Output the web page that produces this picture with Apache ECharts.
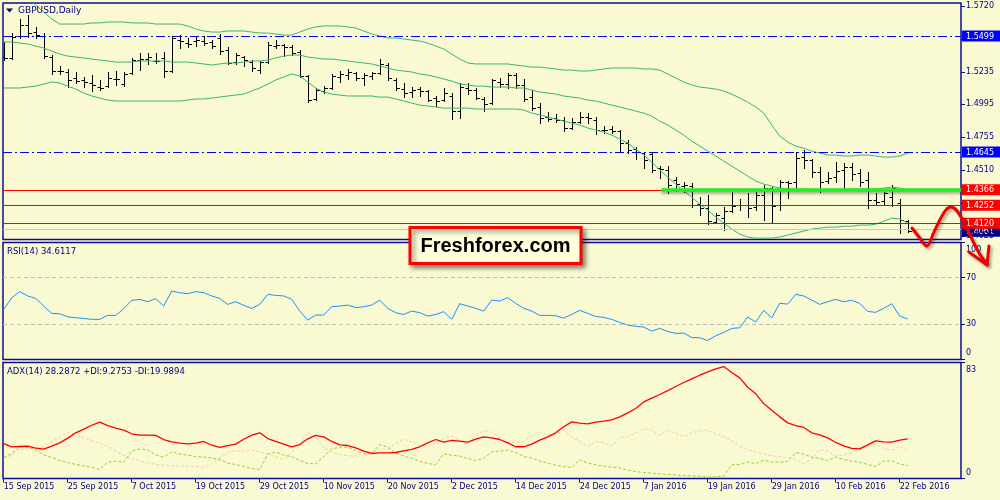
<!DOCTYPE html>
<html><head><meta charset="utf-8">
<script src="https://cdn.jsdelivr.net/npm/echarts@6/dist/echarts.min.js"></script>
<style>html,body{margin:0;padding:0;background:#FAFAD2}#c{width:1000px;height:500px}</style>
</head><body><div id="c"></div>
<script>
const dates = ['15 Sep 2015','16 Sep 2015','17 Sep 2015','18 Sep 2015','21 Sep 2015','22 Sep 2015','23 Sep 2015','24 Sep 2015','25 Sep 2015','28 Sep 2015','29 Sep 2015','30 Sep 2015',
'1 Oct 2015','2 Oct 2015','5 Oct 2015','6 Oct 2015','7 Oct 2015','8 Oct 2015','9 Oct 2015','12 Oct 2015','13 Oct 2015','14 Oct 2015','15 Oct 2015','16 Oct 2015','19 Oct 2015','20 Oct 2015','21 Oct 2015','22 Oct 2015','23 Oct 2015','26 Oct 2015','27 Oct 2015','28 Oct 2015','29 Oct 2015','30 Oct 2015',
'2 Nov 2015','3 Nov 2015','4 Nov 2015','5 Nov 2015','6 Nov 2015','9 Nov 2015','10 Nov 2015','11 Nov 2015','12 Nov 2015','13 Nov 2015','16 Nov 2015','17 Nov 2015','18 Nov 2015','19 Nov 2015','20 Nov 2015','23 Nov 2015','24 Nov 2015','25 Nov 2015','26 Nov 2015','27 Nov 2015','30 Nov 2015',
'1 Dec 2015','2 Dec 2015','3 Dec 2015','4 Dec 2015','7 Dec 2015','8 Dec 2015','9 Dec 2015','10 Dec 2015','11 Dec 2015','14 Dec 2015','15 Dec 2015','16 Dec 2015','17 Dec 2015','18 Dec 2015','21 Dec 2015','22 Dec 2015','23 Dec 2015','24 Dec 2015','28 Dec 2015','29 Dec 2015','30 Dec 2015','31 Dec 2015',
'4 Jan 2016','5 Jan 2016','6 Jan 2016','7 Jan 2016','8 Jan 2016','11 Jan 2016','12 Jan 2016','13 Jan 2016','14 Jan 2016','15 Jan 2016','18 Jan 2016','19 Jan 2016','20 Jan 2016','21 Jan 2016','22 Jan 2016','25 Jan 2016','26 Jan 2016','27 Jan 2016','28 Jan 2016','29 Jan 2016',
'1 Feb 2016','2 Feb 2016','3 Feb 2016','4 Feb 2016','5 Feb 2016','8 Feb 2016','9 Feb 2016','10 Feb 2016','11 Feb 2016','12 Feb 2016','15 Feb 2016','16 Feb 2016','17 Feb 2016','18 Feb 2016','19 Feb 2016','22 Feb 2016','23 Feb 2016'];

const opens = [1.5344,1.5337,1.5499,1.5580,1.5528,1.5499,1.5344,1.5241,1.5234,1.5189,
1.5175,1.5153,1.5123,1.5130,1.5182,1.5145,1.5226,1.5322,1.5329,1.5315,
1.5337,1.5241,1.5469,1.5447,1.5462,1.5462,1.5455,1.5484,1.5396,1.5307,
1.5344,1.5307,1.5248,1.5307,1.5425,1.5433,1.5418,1.5381,1.5204,1.5035,
1.5094,1.5116,1.5197,1.5211,1.5226,1.5189,1.5204,1.5226,1.5285,1.5175,
1.5108,1.5086,1.5108,1.5094,1.5042,1.5027,1.5057,1.4946,1.5116,1.5101,
1.5035,1.5005,1.5160,1.5145,1.5211,1.5138,1.5049,1.4976,1.4902,1.4895,
1.4880,1.4821,1.4865,1.4902,1.4880,1.4806,1.4813,1.4799,1.4710,1.4666,
1.4637,1.4629,1.4526,1.4511,1.4438,1.4394,1.4394,1.4261,1.4231,1.4128,
1.4157,1.4209,1.4253,1.4253,1.4239,1.4327,1.4379,1.4253,1.4423,1.4423,
1.4607,1.4585,1.4497,1.4431,1.4460,1.4511,1.4533,1.4489,1.4438,1.4290,
1.4283,1.4312,1.4268,1.4135];
const closes = [1.5337,1.5492,1.5580,1.5521,1.5506,1.5351,1.5241,1.5241,1.5175,1.5167,
1.5160,1.5138,1.5116,1.5189,1.5182,1.5219,1.5322,1.5329,1.5344,1.5315,
1.5241,1.5484,1.5462,1.5440,1.5469,1.5447,1.5425,1.5388,1.5300,1.5359,
1.5322,1.5263,1.5307,1.5433,1.5433,1.5418,1.5374,1.5204,1.5027,1.5101,
1.5116,1.5204,1.5219,1.5234,1.5189,1.5211,1.5226,1.5293,1.5189,1.5116,
1.5079,1.5101,1.5094,1.5027,1.5020,1.5079,1.4946,1.5123,1.5101,1.5042,
1.4998,1.5175,1.5145,1.5211,1.5138,1.5035,1.4968,1.4895,1.4887,1.4880,
1.4821,1.4865,1.4902,1.4895,1.4806,1.4806,1.4799,1.4710,1.4659,1.4644,
1.4585,1.4511,1.4519,1.4401,1.4408,1.4401,1.4253,1.4231,1.4135,1.4180,
1.4209,1.4246,1.4253,1.4231,1.4327,1.4379,1.4246,1.4423,1.4416,1.4600,
1.4585,1.4497,1.4423,1.4452,1.4504,1.4533,1.4482,1.4423,1.4290,1.4275,
1.4342,1.4379,1.4143,1.4061];
const highs = [1.5455,1.5521,1.5624,1.5654,1.5565,1.5521,1.5359,1.5278,1.5256,1.5234,
1.5197,1.5211,1.5175,1.5234,1.5241,1.5234,1.5337,1.5374,1.5374,1.5374,
1.5381,1.5499,1.5506,1.5484,1.5499,1.5499,1.5469,1.5514,1.5418,1.5374,
1.5351,1.5322,1.5315,1.5455,1.5469,1.5440,1.5433,1.5396,1.5211,1.5116,
1.5130,1.5219,1.5241,1.5256,1.5234,1.5226,1.5234,1.5329,1.5300,1.5189,
1.5153,1.5123,1.5123,1.5101,1.5057,1.5116,1.5079,1.5153,1.5153,1.5116,
1.5049,1.5182,1.5189,1.5226,1.5226,1.5182,1.5101,1.5005,1.4939,1.4924,
1.4902,1.4895,1.4939,1.4931,1.4902,1.4836,1.4836,1.4806,1.4732,1.4681,
1.4644,1.4637,1.4541,1.4541,1.4460,1.4423,1.4416,1.4312,1.4327,1.4194,
1.4239,1.4349,1.4298,1.4342,1.4349,1.4401,1.4386,1.4438,1.4431,1.4644,
1.4659,1.4592,1.4533,1.4497,1.4570,1.4563,1.4563,1.4519,1.4497,1.4342,
1.4349,1.4401,1.4298,1.4143];
const lows = [1.5322,1.5329,1.5484,1.5492,1.5484,1.5337,1.5219,1.5219,1.5123,1.5153,
1.5123,1.5094,1.5101,1.5123,1.5138,1.5130,1.5219,1.5248,1.5293,1.5300,
1.5197,1.5234,1.5410,1.5418,1.5425,1.5433,1.5410,1.5366,1.5293,1.5293,
1.5278,1.5241,1.5226,1.5300,1.5410,1.5351,1.5359,1.5197,1.5012,1.5027,
1.5079,1.5108,1.5160,1.5182,1.5175,1.5138,1.5182,1.5219,1.5175,1.5101,
1.5049,1.5049,1.5057,1.5020,1.4983,1.5020,1.4887,1.4895,1.5071,1.5035,
1.4946,1.4998,1.5123,1.5116,1.5116,1.5020,1.4954,1.4858,1.4872,1.4865,
1.4799,1.4813,1.4858,1.4858,1.4777,1.4784,1.4784,1.4651,1.4637,1.4592,
1.4526,1.4497,1.4452,1.4342,1.4357,1.4349,1.4239,1.4180,1.4113,1.4121,
1.4069,1.4202,1.4217,1.4165,1.4217,1.4143,1.4128,1.4217,1.4305,1.4371,
1.4526,1.4460,1.4349,1.4416,1.4423,1.4371,1.4438,1.4394,1.4231,1.4253,
1.4253,1.4246,1.4047,1.4055];

const bbUpper = [1.5934,1.5882,1.5830,1.5779,1.5727,1.5676,1.5624,1.5587,1.5587,1.5587,
1.5587,1.5595,1.5595,1.5602,1.5602,1.5602,1.5595,1.5595,1.5595,1.5587,
1.5587,1.5587,1.5587,1.5573,1.5550,1.5536,1.5528,1.5528,1.5536,1.5536,
1.5536,1.5528,1.5521,1.5521,1.5514,1.5506,1.5506,1.5528,1.5550,1.5565,
1.5573,1.5573,1.5573,1.5565,1.5558,1.5536,1.5514,1.5499,1.5484,1.5484,
1.5477,1.5469,1.5462,1.5447,1.5425,1.5403,1.5366,1.5329,1.5300,1.5293,
1.5293,1.5293,1.5293,1.5293,1.5285,1.5278,1.5270,1.5270,1.5263,1.5256,
1.5248,1.5248,1.5241,1.5241,1.5248,1.5256,1.5263,1.5263,1.5263,1.5263,
1.5256,1.5256,1.5248,1.5219,1.5189,1.5160,1.5138,1.5123,1.5116,1.5108,
1.5094,1.5071,1.5042,1.5012,1.4976,1.4931,1.4843,1.4762,1.4718,1.4688,
1.4673,1.4651,1.4637,1.4622,1.4622,1.4615,1.4615,1.4622,1.4622,1.4615,
1.4607,1.4607,1.4615,1.4637];
const bbMiddle = [1.5455,1.5455,1.5447,1.5440,1.5425,1.5410,1.5388,1.5366,1.5351,1.5344,
1.5337,1.5329,1.5322,1.5315,1.5307,1.5307,1.5307,1.5315,1.5315,1.5315,
1.5315,1.5307,1.5307,1.5307,1.5300,1.5293,1.5285,1.5293,1.5300,1.5300,
1.5307,1.5315,1.5315,1.5322,1.5337,1.5351,1.5359,1.5359,1.5344,1.5337,
1.5329,1.5329,1.5322,1.5315,1.5307,1.5300,1.5293,1.5278,1.5263,1.5248,
1.5241,1.5234,1.5219,1.5211,1.5197,1.5182,1.5167,1.5145,1.5138,1.5130,
1.5130,1.5123,1.5123,1.5123,1.5116,1.5116,1.5101,1.5086,1.5079,1.5071,
1.5057,1.5049,1.5042,1.5027,1.5020,1.5005,1.4990,1.4976,1.4961,1.4946,
1.4931,1.4909,1.4872,1.4843,1.4806,1.4769,1.4725,1.4688,1.4651,1.4615,
1.4578,1.4541,1.4504,1.4467,1.4431,1.4408,1.4394,1.4379,1.4371,1.4371,
1.4371,1.4364,1.4364,1.4364,1.4364,1.4364,1.4371,1.4371,1.4371,1.4371,
1.4379,1.4386,1.4379,1.4364];
const bbLower = [1.5116,1.5116,1.5116,1.5123,1.5130,1.5145,1.5160,1.5153,1.5130,1.5108,
1.5079,1.5057,1.5042,1.5027,1.5020,1.5020,1.5020,1.5020,1.5020,1.5020,
1.5020,1.5020,1.5020,1.5027,1.5035,1.5035,1.5042,1.5049,1.5057,1.5064,
1.5071,1.5094,1.5116,1.5145,1.5175,1.5197,1.5219,1.5204,1.5160,1.5116,
1.5086,1.5071,1.5064,1.5057,1.5057,1.5057,1.5057,1.5049,1.5049,1.5035,
1.5020,1.5005,1.4990,1.4983,1.4976,1.4968,1.4968,1.4968,1.4968,1.4961,
1.4961,1.4961,1.4961,1.4961,1.4961,1.4954,1.4931,1.4917,1.4902,1.4887,
1.4872,1.4858,1.4843,1.4821,1.4806,1.4791,1.4769,1.4740,1.4710,1.4666,
1.4622,1.4570,1.4511,1.4460,1.4408,1.4357,1.4312,1.4261,1.4217,1.4165,
1.4121,1.4077,1.4040,1.4018,1.4010,1.4010,1.4010,1.4018,1.4033,1.4047,
1.4062,1.4077,1.4084,1.4091,1.4091,1.4098,1.4098,1.4106,1.4106,1.4113,
1.4135,1.4157,1.4150,1.4121];

const rsi = [42.8,52.8,58.0,54.3,52.2,45.7,39.4,39.1,36.5,35.7,
35.1,34.3,34.3,37.7,37.7,43.4,50.5,51.4,49.4,52.0,
45.7,58.5,57.1,56.3,58.0,57.1,54.3,52.2,47.1,49.4,
46.3,43.7,47.1,55.7,54.8,54.3,51.4,41.4,33.7,38.0,
38.0,45.1,45.7,46.5,44.3,45.1,46.5,50.8,43.7,40.0,
38.5,41.4,40.0,37.1,38.5,40.9,34.3,47.7,45.7,43.7,
41.4,50.8,50.0,52.8,48.0,43.7,41.4,37.7,37.7,37.4,
35.4,38.5,42.0,39.4,36.8,36.0,34.3,31.7,29.4,28.3,
27.7,24.3,26.6,24.0,22.3,22.6,18.8,18.6,16.3,20.3,
23.1,26.6,27.1,36.3,32.0,42.0,35.7,48.0,47.4,55.7,
54.3,50.8,47.1,49.4,51.4,49.4,50.5,48.0,41.1,40.3,
43.7,47.7,37.1,34.6];
const adx = [25.0,22.7,22.9,23.1,21.7,21.0,23.1,25.5,28.9,32.7,
35.3,38.1,40.3,37.9,36.0,34.6,32.0,31.0,31.0,30.8,
27.9,26.2,25.3,24.8,25.3,26.5,23.8,22.2,23.6,24.6,
28.1,31.0,32.7,28.6,26.5,24.6,22.7,24.3,28.4,30.8,
29.8,26.5,24.1,23.6,21.9,19.6,17.9,18.4,18.4,18.6,
19.8,20.8,22.7,25.5,27.9,26.0,27.2,26.7,26.0,28.1,
29.8,29.1,27.9,25.5,22.7,22.7,24.6,27.4,29.8,32.7,
37.0,40.5,39.6,39.1,40.3,41.0,42.0,44.1,47.0,50.1,
54.8,57.5,60.1,62.9,65.8,68.7,71.3,73.9,76.3,78.4,
80.1,75.8,72.0,65.3,60.6,53.6,48.9,44.1,39.8,37.9,
36.5,32.7,31.2,29.1,25.8,23.4,21.5,21.2,24.1,26.9,
26.2,26.0,27.4,28.3];
const plusDI = [15.0,17.9,22.7,22.2,20.5,16.9,15.0,12.9,11.5,10.0,
9.1,8.1,6.4,11.7,12.4,11.5,19.6,21.2,20.5,16.9,
15.3,19.1,17.6,16.7,15.7,15.3,14.6,13.6,11.0,10.0,
8.6,7.2,6.4,17.4,18.8,16.9,15.5,12.9,10.7,10.5,
15.5,21.2,22.4,22.4,20.0,17.9,17.6,24.3,22.4,18.1,
16.0,14.3,12.4,10.7,10.0,17.6,16.7,16.0,14.3,12.9,
14.3,19.1,19.6,20.3,18.6,15.7,14.8,12.4,11.0,9.5,
8.4,7.9,13.6,11.0,9.8,8.8,8.1,7.6,6.0,5.0,
4.3,3.8,3.3,2.9,2.6,2.2,1.9,1.7,1.0,1.2,
1.7,9.8,10.0,11.7,10.7,13.1,11.9,11.7,12.2,18.6,
17.4,15.3,14.3,12.9,15.3,13.6,12.4,11.7,10.0,8.6,
12.4,12.6,10.3,9.3];
const minusDI = [14.8,16.5,20.8,20.8,22.4,22.9,26.2,30.0,32.9,31.2,
29.1,27.2,25.0,23.1,19.8,16.5,14.1,12.6,11.5,10.0,
9.6,9.1,8.8,8.8,8.6,8.1,10.5,15.0,18.6,20.0,
19.6,20.3,19.1,17.4,15.3,13.8,18.8,23.1,33.1,29.8,
21.9,18.8,17.2,16.2,16.0,16.2,18.6,21.2,20.8,25.0,
28.1,26.2,23.8,23.4,25.0,28.6,30.3,26.7,24.8,31.0,
34.1,33.1,29.8,26.5,25.5,26.7,30.8,33.4,30.8,32.2,
34.3,29.8,26.7,22.9,26.5,25.7,22.9,29.1,30.0,32.7,
35.5,34.6,30.8,34.6,32.4,30.0,32.9,34.1,34.6,32.0,
30.0,27.2,23.1,20.5,19.1,17.6,16.2,15.7,15.0,13.4,
10.5,13.6,20.8,19.6,16.2,16.9,18.4,20.5,22.9,24.1,
21.7,20.0,23.1,20.0];

const priceTicks = [1.5720,1.5475,1.5235,1.4995,1.4755,1.4510,1.4270,1.4025];
const priceLabels = [1.5720,1.5475,1.5235,1.4995,1.4755,1.4510];
const priceLabelLow = [1.4025];
const blueLevels = [1.5499,1.4645];
const redLevels = [1.4366,1.4252,1.4120];
const bidPrice = 1.4061;
const askPrice = 1.4079;
const greenLevel = 1.4370;
const greenStartBar = 82.2;
const rsiLevels = [70,30];
const rsiTicks = [100,70,30,0];
const adxTicks = [83,0];
const titleText = 'GBPUSD,Daily';
const rsiText = 'RSI(14) 34.6117';
const adxText = 'ADX(14) 28.2872 +DI:9.2753 -DI:19.9894';
const brandText = 'Freshforex.com';

const NAVY = '#000080', FRAME = '#0c0c96', FONT = 'DejaVu Sans';
const X_MIN = -0.09, X_MAX = 119.66;
const P_MIN = 1.4000, P_MAX = 1.5742;
const dateTickIdx = dates.map((d, i) => i).filter(i => i % 8 === 0);
const pairs = arr => arr.map((v, i) => [i, v]);

function renderOHLC(params, api) {
  const i = api.value(0);
  const o = api.coord([i, api.value(1)]);
  const c = api.coord([i, api.value(2)]);
  const l = api.coord([i, api.value(3)]);
  const h = api.coord([i, api.value(4)]);
  const px = Math.round(o[0]) + 0.5;
  const ry = y => Math.round(y) + 0.5;
  const st = {stroke: '#000', lineWidth: 1};
  return {type: 'group', children: [
    {type: 'line', shape: {x1: px, y1: Math.round(h[1]), x2: px, y2: Math.round(l[1]) + 1}, style: st},
    {type: 'line', shape: {x1: px - 3, y1: ry(o[1]), x2: px, y2: ry(o[1])}, style: st},
    {type: 'line', shape: {x1: px, y1: ry(c[1]), x2: px + 3.5, y2: ry(c[1])}, style: st}
  ]};
}

const near = (a, b) => Math.abs(a - b) < 1e-6;
const lblFont = {fontFamily: FONT, fontSize: 8, color: NAVY};
const boxStyle = bg => ({backgroundColor: bg, color: '#fff', padding: [2, 14, 1, 4], fontFamily: FONT, fontSize: 8, lineHeight: 9});
const priceAxis = (z, extra) => Object.assign({type: 'value', gridIndex: 0, position: 'right', min: P_MIN, max: P_MAX, z: z,
  splitLine: {show: false}, axisLine: {show: false, onZero: false}, axisTick: {show: false}}, extra);

const chart = echarts.init(document.getElementById('c'), null, {renderer: 'canvas'});
const gridBase = {show: true, borderColor: FRAME, borderWidth: 1.5, backgroundColor: 'transparent',
  containLabel: false, outerBoundsMode: 'none'};
chart.setOption({
  animation: false,
  backgroundColor: '#FAFAD2',
  grid: [
    Object.assign({left: 3, top: 3, width: 958, height: 236.5}, gridBase),
    Object.assign({left: 3, top: 242.5, width: 958, height: 117}, gridBase),
    Object.assign({left: 3, top: 362.5, width: 958, height: 116}, gridBase)
  ],
  xAxis: [0, 1, 2].map(g => ({
    type: 'value', gridIndex: g, min: X_MIN, max: X_MAX,
    show: g === 2,
    splitLine: {show: false},
    axisLine: {show: false, onZero: false},
    axisTick: {show: g === 2, customValues: dateTickIdx, length: 4, lineStyle: {color: FRAME, width: 1}},
    axisLabel: Object.assign({show: g === 2, customValues: dateTickIdx, formatter: v => dates[Math.round(v)] || '',
      align: 'left', margin: 4, showMinLabel: true, showMaxLabel: true}, lblFont)
  })),
  yAxis: [
    priceAxis(1, {axisTick: {show: true, customValues: priceTicks, length: 4, lineStyle: {color: FRAME}},
      axisLabel: Object.assign({customValues: priceLabels, formatter: v => v.toFixed(4), margin: 5,
        showMinLabel: true, showMaxLabel: true}, lblFont)}),
    priceAxis(2, {axisLabel: {customValues: [bidPrice], margin: 1, showMinLabel: true, showMaxLabel: true,
        formatter: v => '{navy|' + v.toFixed(4) + '}', rich: {navy: boxStyle('#000080')}}}),
    priceAxis(3, {axisLabel: {customValues: blueLevels.concat(redLevels), margin: 1, showMinLabel: true, showMaxLabel: true,
        formatter: v => (blueLevels.some(b => near(b, v)) ? '{blue|' : '{red|') + v.toFixed(4) + '}',
        rich: {blue: boxStyle('#0000FF'), red: boxStyle('#FF0000')}}}),
    priceAxis(4, {axisLabel: Object.assign({customValues: priceLabelLow, formatter: v => v.toFixed(4), margin: 5,
        showMinLabel: true, showMaxLabel: true}, lblFont)}),
    {type: 'value', gridIndex: 1, position: 'right', min: 0, max: 100,
      splitLine: {show: false}, axisLine: {show: false, onZero: false},
      axisTick: {customValues: rsiTicks, length: 4, lineStyle: {color: FRAME}},
      axisLabel: Object.assign({customValues: rsiTicks, margin: 5, showMinLabel: true, showMaxLabel: true,
        formatter: v => v === 100 ? '{t|100}' : (v === 0 ? '{b|0}' : String(v)),
        rich: {t: {padding: [14, 0, 0, 0], fontFamily: FONT, fontSize: 8, color: NAVY},
               b: {padding: [0, 0, 14, 0], fontFamily: FONT, fontSize: 8, color: NAVY}}}, lblFont)},
    {type: 'value', gridIndex: 2, position: 'right', min: 0, max: 83,
      splitLine: {show: false}, axisLine: {show: false, onZero: false},
      axisTick: {customValues: adxTicks, length: 4, lineStyle: {color: FRAME}},
      axisLabel: Object.assign({customValues: adxTicks, margin: 5, showMinLabel: true, showMaxLabel: true,
        formatter: v => v === 83 ? '{t|83}' : '{b|0}',
        rich: {t: {padding: [15, 0, 0, 0], fontFamily: FONT, fontSize: 8, color: NAVY},
               b: {padding: [0, 0, 12, 0], fontFamily: FONT, fontSize: 8, color: NAVY}}}, lblFont)}
  ],
  series: [
    {type: 'custom', name: 'GBPUSD', xAxisIndex: 0, yAxisIndex: 0, clip: true,
      data: opens.map((o, i) => [i, o, closes[i], lows[i], highs[i]]),
      encode: {x: 0, y: [1, 2, 3, 4]}, renderItem: renderOHLC, z: 3},
    {type: 'line', name: 'BB upper', xAxisIndex: 0, yAxisIndex: 0, data: pairs(bbUpper), symbol: 'none', clip: true,
      lineStyle: {color: '#3CB371', width: 1}, z: 4},
    {type: 'line', name: 'BB middle', xAxisIndex: 0, yAxisIndex: 0, data: pairs(bbMiddle), symbol: 'none', clip: true,
      lineStyle: {color: '#3CB371', width: 1}, z: 4},
    {type: 'line', name: 'BB lower', xAxisIndex: 0, yAxisIndex: 0, data: pairs(bbLower), symbol: 'none', clip: true,
      lineStyle: {color: '#3CB371', width: 1}, z: 4,
      markLine: {silent: true, precision: 4, symbol: ['none', 'none'], label: {show: false}, animation: false,
        data: [
          ...blueLevels.map(v => ({yAxis: v, lineStyle: {color: '#0000FF', width: 1.2, type: [9, 3, 2, 3]}})),
          {yAxis: askPrice, lineStyle: {color: '#C8C8C8', width: 1, type: 'solid'}},
          ...redLevels.map(v => ({yAxis: v, lineStyle: {color: '#FF0000', width: 1, type: 'solid'}})),
          [{coord: [greenStartBar, greenLevel], lineStyle: {color: '#22EE22', width: 3.5, type: 'solid',
              shadowColor: 'rgba(0,0,0,0.35)', shadowBlur: 3, shadowOffsetY: 2}},
           {coord: [X_MAX, greenLevel]}]
        ]}},
    {type: 'line', name: 'RSI', xAxisIndex: 1, yAxisIndex: 4, data: pairs(rsi), symbol: 'none',
      lineStyle: {color: '#1E90FF', width: 1},
      markLine: {silent: true, precision: 2, symbol: ['none', 'none'], label: {show: false}, animation: false,
        data: rsiLevels.map(v => ({yAxis: v, lineStyle: {color: '#BDBDBD', width: 1, type: [4, 3]}}))}},
    {type: 'line', name: '-DI', xAxisIndex: 2, yAxisIndex: 5, data: pairs(minusDI), symbol: 'none',
      lineStyle: {color: '#F7CCA8', width: 1, type: [3, 2]}},
    {type: 'line', name: '+DI', xAxisIndex: 2, yAxisIndex: 5, data: pairs(plusDI), symbol: 'none',
      lineStyle: {color: '#9ACD32', width: 1, type: [3, 2]}},
    {type: 'line', name: 'ADX', xAxisIndex: 2, yAxisIndex: 5, data: pairs(adx), symbol: 'none',
      lineStyle: {color: '#FF0000', width: 1.3}}
  ],
  graphic: [
    {type: 'polygon', shape: {points: [[6, 8.5], [13, 8.5], [9.5, 12.5]]}, style: {fill: NAVY}, z: 10},
    {type: 'text', x: 18, y: 11, style: {text: titleText, fill: NAVY, font: '9px "DejaVu Sans"', textVerticalAlign: 'middle'}, z: 10},
    {type: 'text', x: 7, y: 251.5, style: {text: rsiText, fill: NAVY, font: '8.5px "DejaVu Sans"', textVerticalAlign: 'middle'}, z: 10},
    {type: 'text', x: 7, y: 372, style: {text: adxText, fill: NAVY, font: '8.5px "DejaVu Sans"', textVerticalAlign: 'middle'}, z: 10},
    {type: 'rect', shape: {x: 410, y: 227.5, width: 171, height: 36}, z: 20,
      style: {fill: '#FFFFDC', stroke: '#FF0000', lineWidth: 3, shadowColor: 'rgba(0,0,0,0.45)', shadowBlur: 5, shadowOffsetX: 3, shadowOffsetY: 3}},
    {type: 'text', x: 495.5, y: 246, z: 21,
      style: {text: brandText, fill: '#000', font: 'bold 20px "Liberation Sans", Arial, sans-serif', textAlign: 'center', textVerticalAlign: 'middle'}},
    {type: 'polyline', z: 22, shape: {smooth: 0.35, points: [[912, 228], [919, 237], [927, 246], [934, 232], [942, 216], [948, 208], [954, 208], [961, 217], [970, 235], [979, 253], [987, 264]]},
      style: {stroke: '#F00000', lineWidth: 3, fill: null, lineJoin: 'round', lineCap: 'round', shadowColor: 'rgba(0,0,0,0.35)', shadowBlur: 3, shadowOffsetX: 2, shadowOffsetY: 2}},
    {type: 'polyline', z: 22, shape: {points: [[969, 252], [987, 265], [989, 246]]},
      style: {stroke: '#F00000', lineWidth: 3, fill: null, lineJoin: 'round', lineCap: 'round', shadowColor: 'rgba(0,0,0,0.35)', shadowBlur: 3, shadowOffsetX: 2, shadowOffsetY: 2}}
  ]
});
</script></body></html>
